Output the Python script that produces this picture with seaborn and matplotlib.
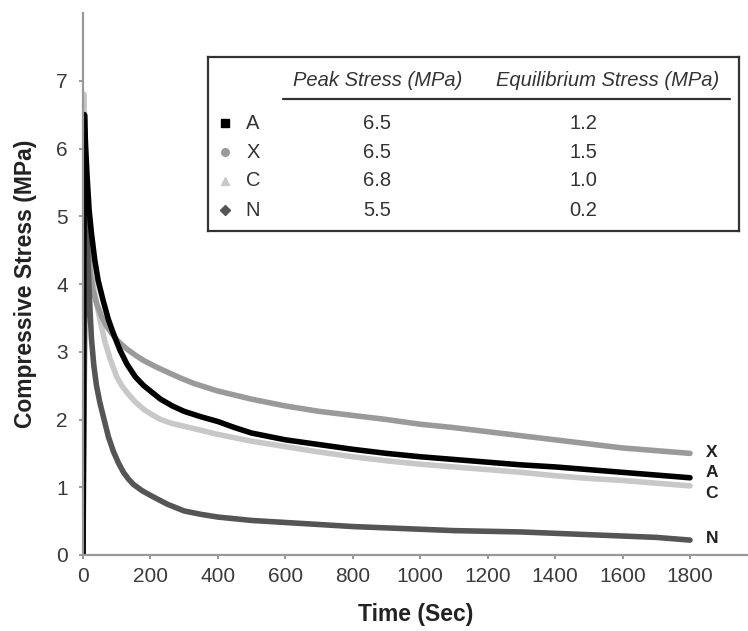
import pandas as pd
import numpy as np
import matplotlib
matplotlib.use("Agg")
import matplotlib.pyplot as plt
import seaborn as sns

# ---- values ----
samples = ["A", "X", "C", "N"]

time_A = [0, 4, 8, 12, 18, 25, 35, 45, 60, 75, 90, 110, 130, 155, 180, 205, 230, 265, 300,
          350, 400, 450, 500, 550, 600, 700, 800, 900, 1000, 1100, 1200, 1300, 1400, 1500,
          1600, 1700, 1800]
stress_A = [0, 6.5, 6.0, 5.6, 5.1, 4.75, 4.35, 4.05, 3.75, 3.48, 3.27, 3.02, 2.82, 2.63, 2.5,
            2.4, 2.3, 2.2, 2.12, 2.04, 1.97, 1.88, 1.8, 1.75, 1.7, 1.63, 1.56, 1.5, 1.45, 1.41,
            1.37, 1.33, 1.3, 1.26, 1.22, 1.18, 1.14]

time_X = [0, 5, 8, 12, 16, 22, 30, 40, 55, 70, 85, 105, 130, 155, 180, 215, 250, 290, 330,
          400, 500, 600, 700, 800, 900, 1000, 1100, 1200, 1300, 1400, 1500, 1600, 1700, 1800]
stress_X = [0, 6.5, 5.6, 4.9, 4.5, 4.15, 3.9, 3.72, 3.52, 3.38, 3.27, 3.15, 3.04, 2.95, 2.87,
            2.78, 2.7, 2.61, 2.53, 2.42, 2.3, 2.2, 2.12, 2.06, 2.0, 1.93, 1.88, 1.82, 1.76,
            1.7, 1.64, 1.58, 1.54, 1.5]

time_C = [0, 3, 6, 10, 15, 22, 30, 40, 50, 65, 80, 100, 115, 130, 155, 180, 205, 230, 265,
          300, 350, 400, 500, 600, 700, 800, 900, 1000, 1100, 1200, 1300, 1400, 1500, 1600,
          1700, 1800]
stress_C = [0, 6.8, 5.9, 5.1, 4.6, 4.25, 4.0, 3.72, 3.48, 3.15, 2.9, 2.63, 2.5, 2.4, 2.26,
            2.15, 2.07, 2.0, 1.94, 1.9, 1.84, 1.78, 1.68, 1.6, 1.52, 1.45, 1.39, 1.34, 1.3,
            1.26, 1.22, 1.17, 1.13, 1.1, 1.06, 1.02]

time_N = [0, 8, 11, 15, 20, 25, 32, 40, 50, 60, 75, 90, 105, 120, 135, 150, 175, 200, 250,
          300, 350, 400, 500, 600, 700, 800, 900, 1000, 1100, 1200, 1300, 1400, 1500, 1600,
          1700, 1800]
stress_N = [0, 5.5, 4.9, 4.3, 3.7, 3.2, 2.8, 2.5, 2.25, 2.05, 1.75, 1.53, 1.36, 1.22, 1.12,
            1.04, 0.95, 0.88, 0.75, 0.65, 0.6, 0.56, 0.51, 0.48, 0.45, 0.42, 0.4, 0.38, 0.36,
            0.35, 0.34, 0.32, 0.3, 0.28, 0.26, 0.22]

peak_stress = ["6.5", "6.5", "6.8", "5.5"]
equil_stress = ["1.2", "1.5", "1.0", "0.2"]

# ---- styling ----
colors = {"A": "#000000", "X": "#9a9a9a", "C": "#c8c8c8", "N": "#555555"}
markers = {"A": "s", "X": "o", "C": "^", "N": "D"}
label_nudge = {"A": 0.08, "X": 0.02, "C": -0.11, "N": 0.02}

sns.set_style("white")
plt.rcParams["font.family"] = ["Liberation Sans", "DejaVu Sans"]

frames = []
for name, t, s in [("A", time_A, stress_A), ("X", time_X, stress_X),
                   ("C", time_C, stress_C), ("N", time_N, stress_N)]:
    frames.append(pd.DataFrame({"Time": t, "Stress": s, "Sample": name}))
df = pd.concat(frames, ignore_index=True)

W, H = 748, 631
fig = plt.figure(figsize=(W / 100, H / 100), dpi=100)
ax = fig.add_axes([83 / W, 1 - 555 / H, (W - 83) / W, (555 - 13) / H])

# draw order: light curves first, black on top
for name in ["C", "X", "N", "A"]:
    sub = df[df["Sample"] == name]
    sns.lineplot(data=sub, x="Time", y="Stress", color=colors[name], linewidth=4,
                 sort=False, estimator=None, ax=ax, legend=False)

ax.set_xlim(0, 1972)
ax.set_ylim(0, 8)
ax.set_xticks(range(0, 1801, 200))
ax.set_yticks(range(0, 8))
ax.tick_params(axis="both", labelsize=15, colors="#888888", labelcolor="#3a3a3a",
               length=3, width=1.2, direction="out", bottom=True, left=True)
ax.tick_params(axis="y", pad=8)
ax.tick_params(axis="x", pad=6)
for side in ["top", "right"]:
    ax.spines[side].set_visible(False)
for side in ["left", "bottom"]:
    ax.spines[side].set_color("#999999")
    ax.spines[side].set_linewidth(1.6)

ax.set_xlabel("Time (Sec)", fontsize=16.5, fontweight="bold", color="#222222", labelpad=12)
ax.set_ylabel("Compressive Stress (MPa)", fontsize=16.5, fontweight="bold", color="#222222",
              labelpad=14)

# end-of-curve labels
ends = {"A": stress_A[-1], "X": stress_X[-1], "C": stress_C[-1], "N": stress_N[-1]}
for name in samples:
    ax.text(1865, ends[name] + label_nudge[name], name, fontsize=12.5, fontweight="bold",
            ha="center", va="center", color="#222222")

# ---- table-style legend box ----
lx0, ly0, lx1, ly1 = 208, 57, 739, 231
leg = fig.add_axes([lx0 / W, 1 - ly1 / H, (lx1 - lx0) / W, (ly1 - ly0) / H])
leg.set_xlim(0, lx1 - lx0)
leg.set_ylim(ly1 - ly0, 0)
leg.set_xticks([])
leg.set_yticks([])
leg.set_facecolor("white")
for sp in leg.spines.values():
    sp.set_color("#333333")
    sp.set_linewidth(1.6)

leg.text(170, 23, "Peak Stress (MPa)", fontsize=14.5, style="italic", ha="center",
         va="center", color="#333333")
leg.text(400, 23, "Equilibrium Stress (MPa)", fontsize=14.5, style="italic", ha="center",
         va="center", color="#333333")
leg.plot([75, 522], [42, 42], color="#333333", lw=1.6)

row_y = [66, 95, 124, 153]
for i, name in enumerate(samples):
    leg.plot([17], [row_y[i]], marker=markers[name], color=colors[name], markersize=5.5,
             linestyle="none")
    leg.text(45, row_y[i], name, fontsize=14.5, ha="center", va="center", color="#333333")
    leg.text(169, row_y[i], peak_stress[i], fontsize=14.5, ha="center", va="center",
             color="#333333")
    leg.text(375, row_y[i], equil_stress[i], fontsize=14.5, ha="center", va="center",
             color="#333333")

fig.savefig("out.png", dpi=100)
